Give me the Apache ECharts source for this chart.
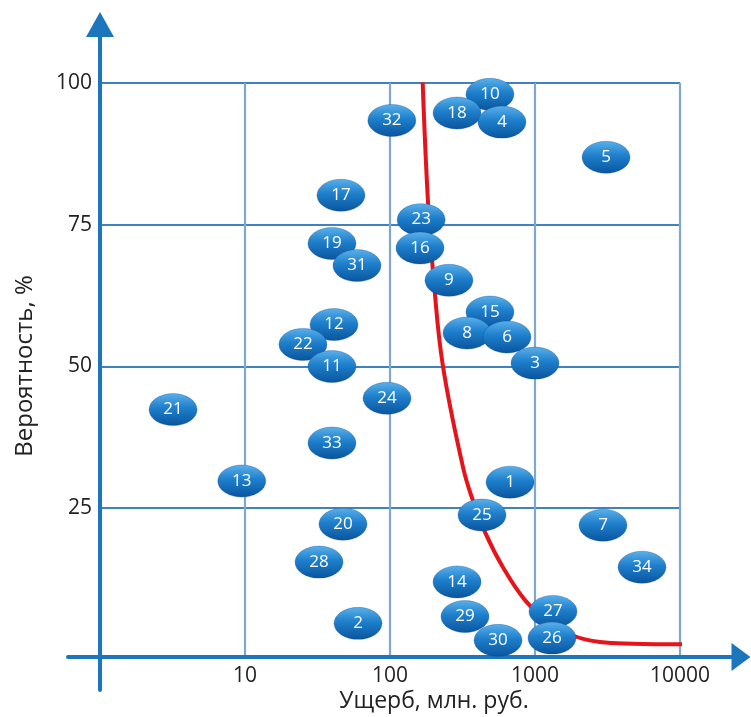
<!DOCTYPE html>
<html>
<head>
<meta charset="utf-8">
<script src="https://cdn.jsdelivr.net/npm/echarts@6/dist/echarts.min.js"></script>
<style>
  html, body { margin: 0; padding: 0; background: #ffffff; }
  #chart { width: 751px; height: 717px; }
</style>
</head>
<body>
<div id="chart"></div>
<script>
// ---- Data ----
const riskIds = [1, 2, 3, 4, 5, 6, 7, 8, 9, 10, 11, 12, 13, 14, 15, 16, 17,
                 18, 19, 20, 21, 22, 23, 24, 25, 26, 27, 28, 29, 30, 31, 32, 33, 34];
const damage = [673, 60.2, 1000, 592, 3090, 641, 2944, 340, 255, 489, 39.8, 41.1, 9.5, 290, 489, 161, 45.9,
                290, 39.8, 47.4, 3.19, 25.1, 164, 95.4, 431, 1310, 1331, 32.4, 329, 556, 59.2, 103, 39.8, 5470];
const probability = [29.6, 4.7, 50.6, 93.1, 86.9, 55.2, 22.0, 55.9, 65.2, 98.0, 50.0, 57.4, 29.8, 12.0, 59.6, 70.9, 80.2,
                     94.7, 71.7, 22.2, 42.4, 53.9, 75.9, 44.4, 23.8, 2.1, 6.8, 15.5, 5.9, 1.7, 67.8, 93.4, 36.5, 14.6];

// Red boundary curve
const curveDamage = [168, 183, 201, 232, 319, 368, 452, 601, 853, 1250, 1799, 2807, 4742, 10490];
const curveProb   = [100.1, 78.8, 64.7, 50.0, 32.2, 26.8, 20.8, 14.6, 8.8, 4.9, 2.6, 1.4, 1.1, 1.0];

// Tick labels
const xTickLabels = ['10', '100', '1000', '10000'];
const yTickLabels = ['25', '50', '75', '100'];

const xTitle = 'Ущерб, млн. руб.';
const yTitle = 'Вероятность, %';

// ---- Build ----
const FONT = 'Open Sans';
const AXIS_BLUE = '#1c76be';

const points = riskIds.map((id, i) => ({ value: [damage[i], probability[i]], id: id }))
  .sort((a, b) => b.value[1] - a.value[1]); // upper ones first so lower ellipses sit on top

const curve = curveDamage.map((d, i) => [d, curveProb[i]]);

const ellipseColor = new echarts.graphic.LinearGradient(0, 0, 0, 1, [
  { offset: 0, color: '#5ab0ea' },
  { offset: 0.45, color: '#1e7fcc' },
  { offset: 1, color: '#0a559d' }
]);

const hidden = { show: false };

const option = {
  backgroundColor: '#ffffff',
  animation: false,
  grid: [
    { left: 100, right: 71, top: 83, bottom: 67 },    // 0 data
    { left: 100, right: 71, top: 83, bottom: 60 },    // 1 vertical grid lines + x labels
    { left: 100, right: 71, top: 83, bottom: 209 },   // 2 horizontal grid lines + y labels
    { left: 68, right: 10, top: 83, bottom: 60 },     // 3 x arrow axis
    { left: 100, right: 71, top: 24.5, bottom: 27 }   // 4 y arrow axis
  ],
  xAxis: [
    { gridIndex: 0, type: 'log', logBase: 10, min: 1, max: 10000, show: false },
    {
      gridIndex: 1, type: 'log', logBase: 10, min: 1, max: 10000,
      axisLine: hidden, axisTick: hidden,
      splitLine: { show: true, lineStyle: { color: '#7fa8cf', width: 2.2 } },
      axisLabel: {
        showMinLabel: false, margin: 9,
        fontFamily: FONT, fontSize: 21, color: '#222',
        formatter: v => { const s = String(Math.round(v)); return xTickLabels.indexOf(s) >= 0 ? s : ''; }
      }
    },
    { gridIndex: 2, type: 'log', logBase: 10, min: 1, max: 10000, show: false },
    {
      gridIndex: 3, type: 'value', min: 0, max: 1, z: 3,
      axisLine: { show: true, symbol: ['none', 'triangle'], symbolSize: [28, 19],
                  lineStyle: { color: AXIS_BLUE, width: 4 } },
      axisTick: hidden, axisLabel: hidden, splitLine: hidden
    },
    { gridIndex: 4, type: 'value', min: 0, max: 1, show: false }
  ],
  yAxis: [
    { gridIndex: 0, type: 'value', min: 0, max: 100, show: false },
    { gridIndex: 1, type: 'value', min: 0, max: 100, show: false },
    {
      gridIndex: 2, type: 'value', min: 25, max: 100, interval: 25,
      axisLine: hidden, axisTick: hidden,
      splitLine: { show: true, lineStyle: { color: '#3f82bd', width: 1.8 } },
      axisLabel: {
        margin: 8, fontFamily: FONT, fontSize: 21, color: '#222',
        formatter: v => { const s = String(Math.round(v)); return yTickLabels.indexOf(s) >= 0 ? s : ''; }
      }
    },
    { gridIndex: 3, type: 'value', min: 0, max: 1, show: false },
    {
      gridIndex: 4, type: 'value', min: 0, max: 1, z: 3,
      axisLine: { show: true, symbol: ['none', 'triangle'], symbolSize: [28, 25],
                  lineStyle: { color: AXIS_BLUE, width: 4 } },
      axisTick: hidden, axisLabel: hidden, splitLine: hidden
    }
  ],
  graphic: [
    {
      type: 'text', x: 434, y: 701,
      style: { text: xTitle, fontFamily: FONT, fontSize: 23, fill: '#222',
               textAlign: 'center', textVerticalAlign: 'middle' }
    },
    {
      type: 'text', x: 25, y: 366, rotation: Math.PI / 2,
      style: { text: yTitle, fontFamily: FONT, fontSize: 24, fill: '#222',
               textAlign: 'center', textVerticalAlign: 'middle' }
    }
  ],
  series: [
    {
      type: 'line', xAxisIndex: 0, yAxisIndex: 0,
      data: curve, smooth: 0.4, showSymbol: false, clip: false, z: 2,
      lineStyle: { color: '#e5141b', width: 4 }
    },
    {
      type: 'scatter', xAxisIndex: 0, yAxisIndex: 0, z: 3,
      data: points,
      symbol: 'circle', symbolSize: [48, 32],
      itemStyle: { color: ellipseColor, opacity: 1, borderColor: 'rgba(10,70,130,0.5)', borderWidth: 0.6 },
      label: {
        show: true, position: 'inside', color: '#ffffff',
        fontFamily: FONT, fontSize: 17,
        formatter: p => String(p.data.id)
      }
    }
  ]
};

const chart = echarts.init(document.getElementById('chart'), null, { renderer: 'canvas' });
chart.setOption(option);
</script>
</body>
</html>
